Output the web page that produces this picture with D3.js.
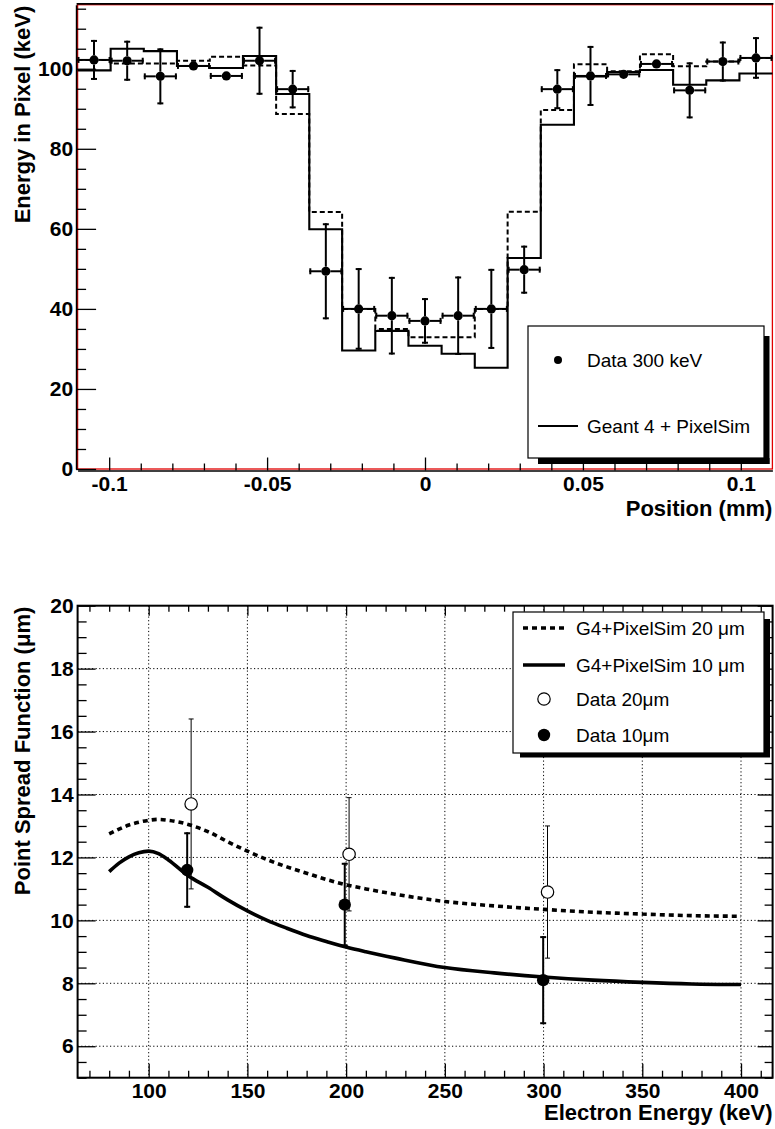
<!DOCTYPE html>
<html><head><meta charset="utf-8">
<script src="https://cdn.jsdelivr.net/npm/d3@7"></script>
<style>
body{margin:0;background:#fff}
svg{display:block}
</style>
</head><body>
<svg id="c" width="775" height="1129"></svg>
<script>
// ================= DATA =================
// Top panel: energy deposited in pixel vs position
const binCenters = [-0.1048,-0.0943,-0.0838,-0.0733,-0.0629,-0.0524,-0.0419,-0.0314,-0.0210,-0.0105,0,
                    0.0105,0.0210,0.0314,0.0419,0.0524,0.0629,0.0733,0.0838,0.0943,0.1048];
const binWidth = 0.010476;
const dataE   = [102.2,102.0,98.1,100.7,98.2,102.0,94.9,49.4,40.0,38.3,37.0,38.3,40.0,49.8,94.9,98.2,98.6,101.2,94.6,101.8,102.7];
const dataErr = [5.0,5.0,7.0,0.8,0.8,8.5,4.8,12.0,10.2,9.7,5.7,9.8,10.0,6.0,5.0,7.5,0.8,0.8,7.0,5.0,5.2];
const simSolid  = [99.6,105.0,104.4,100.7,100.2,103.2,93.7,59.9,29.6,34.5,30.8,28.8,25.3,52.7,86.0,98.1,99.2,99.7,96.0,97.1,98.8];
const simDashed = [102.2,101.3,101.3,102.0,103.0,100.8,88.7,64.2,40.0,35.0,32.9,32.9,40.0,64.3,89.7,101.1,99.4,103.6,100.6,101.8,102.7];
const xTicksTop = [-0.1,-0.05,0,0.05,0.1];
const xTickLabelsTop = ["-0.1","-0.05","0","0.05","0.1"];
const yTicksTop = [0,20,40,60,80,100];
const yTickLabelsTop = ["0","20","40","60","80","100"];

// Bottom panel: point spread function vs electron energy
const simEnergy = [80,85,90,95,100,105,110,120,130,140,150,160,170,180,190,200,210,225,250,275,300,325,350,375,400];
const psf10 = [11.55,11.82,12.02,12.15,12.2,12.12,11.92,11.42,11.05,10.65,10.3,10.0,9.75,9.52,9.33,9.15,9.0,8.8,8.5,8.33,8.2,8.1,8.03,7.98,7.96];
const psf20 = [12.75,12.9,13.03,13.12,13.18,13.21,13.18,13.05,12.82,12.5,12.2,11.93,11.7,11.5,11.3,11.13,11.0,10.83,10.6,10.46,10.35,10.26,10.2,10.15,10.13];
const data20E = [121.5,201.5,302];
const data20  = [13.7,12.1,10.9];
const data20Err = [2.7,1.8,2.1];
const data10E = [119.5,199.3,299.8];
const data10  = [11.6,10.5,8.1];
const data10Err = [1.2,1.33,1.4];
const xTicksBot = [100,150,200,250,300,350,400];
const xTickLabelsBot = ["100","150","200","250","300","350","400"];
const yTicksBot = [6,8,10,12,14,16,18,20];
const yTickLabelsBot = ["6","8","10","12","14","16","18","20"];

// ================= DRAW =================
const FONT = '"Liberation Sans", Arial, Helvetica, sans-serif';
const svg = d3.select("#c");

function styleAxis(g, size){
  g.attr("font-family", FONT).attr("font-size", size).attr("font-weight", "bold");
  g.selectAll("line").attr("stroke", "#000").attr("stroke-width", 1.3);
  g.selectAll("text").attr("fill", "#000");
}

// ---------- TOP PANEL ----------
const T = {l:77.6, r:772.4, t:4.7, b:469};
const xT = d3.scaleLinear().domain([-0.11,0.11]).range([T.l,T.r]);
const yT = d3.scaleLinear().domain([0,116]).range([T.b,T.t]);
const gT = svg.append("g");

gT.append("rect").attr("x",T.l).attr("y",T.t).attr("width",T.r-T.l).attr("height",T.b-T.t)
  .attr("fill","none").attr("stroke","#e00000").attr("stroke-width",1.3);
gT.append("line").attr("x1",T.l-1).attr("x2",T.r+1).attr("y1",T.t-0.8).attr("y2",T.t-0.8)
  .attr("stroke","#000").attr("stroke-width",1.6);

// minor ticks
const minorXT = d3.range(-10,11).map(k=>k/100).filter(v=>Math.abs(v*20-Math.round(v*20))>1e-6);
const minorYT = d3.range(5,116,5).filter(v=>v%20!==0);
gT.append("g").attr("transform",`translate(0,${T.b+1.5})`)
  .call(d3.axisBottom(xT).tickValues(minorXT).tickSize(-7).tickSizeOuter(0).tickFormat(""))
  .call(g=>{g.select(".domain").remove(); styleAxis(g,21);});
gT.append("g").attr("transform",`translate(${T.l-1.5},0)`)
  .call(d3.axisLeft(yT).tickValues(minorYT).tickSize(-10).tickSizeOuter(0).tickFormat(""))
  .call(g=>{g.select(".domain").remove(); styleAxis(g,21);});
// major axes
gT.append("g").attr("transform",`translate(0,${T.b+1.5})`)
  .call(d3.axisBottom(xT).tickValues(xTicksTop).tickSize(-13).tickSizeOuter(0).tickPadding(6)
        .tickFormat((d,i)=>xTickLabelsTop[i]))
  .call(g=>{styleAxis(g,21); g.select(".domain").attr("stroke","#000").attr("stroke-width",1.6);});
gT.append("g").attr("transform",`translate(${T.l-1.5},0)`)
  .call(d3.axisLeft(yT).tickValues(yTicksTop).tickSize(-20).tickSizeOuter(0).tickPadding(3)
        .tickFormat((d,i)=>yTickLabelsTop[i]))
  .call(g=>{styleAxis(g,21); g.select(".domain").attr("stroke","#000").attr("stroke-width",1.6);});

// axis titles
gT.append("text").attr("x",T.r).attr("y",516).attr("text-anchor","end")
  .attr("font-family",FONT).attr("font-weight","bold").attr("font-size",22).text("Position (mm)");
gT.append("text").attr("transform",`translate(30,${T.t+1}) rotate(-90)`).attr("text-anchor","end")
  .attr("font-family",FONT).attr("font-weight","bold").attr("font-size",22).text("Energy in Pixel (keV)");

// histograms
function histPts(vals){
  const pts = binCenters.map((c,i)=>[c-binWidth/2, vals[i]]);
  pts.push([binCenters[binCenters.length-1]+binWidth/2, vals[vals.length-1]]);
  return pts;
}
const stepLine = d3.line().x(d=>xT(d[0])).y(d=>yT(d[1])).curve(d3.curveStepAfter);
gT.append("path").attr("d",stepLine(histPts(simDashed))).attr("fill","none")
  .attr("stroke","#000").attr("stroke-width",2).attr("stroke-dasharray","5,3");
gT.append("path").attr("d",stepLine(histPts(simSolid))).attr("fill","none")
  .attr("stroke","#000").attr("stroke-width",2.1);

// data points with error bars
const R1 = 4.6;
const gD = gT.append("g").attr("stroke","#000").attr("stroke-width",2);
binCenters.forEach((c,i)=>{
  const cx = xT(c), cy = yT(dataE[i]);
  const xl = xT(c-binWidth/2), xr = xT(c+binWidth/2);
  // horizontal
  gD.append("line").attr("x1",xl).attr("x2",cx-R1).attr("y1",cy).attr("y2",cy);
  gD.append("line").attr("x1",cx+R1).attr("x2",xr).attr("y1",cy).attr("y2",cy);
  gD.append("line").attr("x1",xl+1).attr("x2",xl+1).attr("y1",cy-3).attr("y2",cy+3);
  gD.append("line").attr("x1",xr-1).attr("x2",xr-1).attr("y1",cy-3).attr("y2",cy+3);
  // vertical
  const yt = yT(dataE[i]+dataErr[i]), yb = yT(dataE[i]-dataErr[i]);
  if (cy-yt > R1+1){
    gD.append("line").attr("x1",cx).attr("x2",cx).attr("y1",yt).attr("y2",cy-R1);
    gD.append("line").attr("x1",cx).attr("x2",cx).attr("y1",cy+R1).attr("y2",yb);
    gD.append("line").attr("x1",cx-3).attr("x2",cx+3).attr("y1",yt+1).attr("y2",yt+1);
    gD.append("line").attr("x1",cx-3).attr("x2",cx+3).attr("y1",yb-1).attr("y2",yb-1);
  }
  gT.append("circle").attr("cx",cx).attr("cy",cy).attr("r",R1).attr("fill","#000");
});

// legend (top)
const LT = {x:528, y:326, w:236, h:132};
gT.append("rect").attr("x",LT.x+LT.w).attr("y",LT.y+10).attr("width",5.5).attr("height",LT.h-4).attr("fill","#000");
gT.append("rect").attr("x",LT.x+10).attr("y",LT.y+LT.h).attr("width",LT.w-4.5).attr("height",6).attr("fill","#000");
gT.append("rect").attr("x",LT.x).attr("y",LT.y).attr("width",LT.w).attr("height",LT.h)
  .attr("fill","#fff").attr("stroke","#000").attr("stroke-width",1.2);
gT.append("circle").attr("cx",558).attr("cy",360).attr("r",4).attr("fill","#000");
gT.append("text").attr("x",587).attr("y",367).attr("font-family",FONT).attr("font-size",19).text("Data 300 keV");
gT.append("line").attr("x1",538).attr("x2",578).attr("y1",426).attr("y2",426).attr("stroke","#000").attr("stroke-width",2);
gT.append("text").attr("x",587).attr("y",433).attr("font-family",FONT).attr("font-size",19).text("Geant 4 + PixelSim");

// ---------- BOTTOM PANEL ----------
const B = {l:77.6, r:772.6, t:605.7, b:1077.7};
const xB = d3.scaleLinear().domain([64,416]).range([B.l,B.r]);
const yB = d3.scaleLinear().domain([5,20]).range([B.b,B.t]);
const gB = svg.append("g");

// grid
gB.append("g").selectAll("line").data(xTicksBot).join("line")
  .attr("x1",d=>xB(d)).attr("x2",d=>xB(d)).attr("y1",B.t).attr("y2",B.b)
  .attr("stroke","#000").attr("stroke-width",1).attr("stroke-dasharray","1.2,2.4");
gB.append("g").selectAll("line").data(yTicksBot.filter(v=>v<20)).join("line")
  .attr("x1",B.l).attr("x2",B.r).attr("y1",d=>yB(d)).attr("y2",d=>yB(d))
  .attr("stroke","#000").attr("stroke-width",1).attr("stroke-dasharray","1.2,2.4");

// ticks
const minorXB = d3.range(70,416,10).filter(v=>v%50!==0);
const minorYB = d3.range(5,20.01,0.5).filter(v=>Math.abs(v%2)>1e-6);
function tickSet(axisFn, transform, vals, size, labels, pad){
  const a = axisFn.tickValues(vals).tickSize(size).tickSizeOuter(0).tickPadding(pad||0)
    .tickFormat(labels ? ((d,i)=>labels[i]) : "");
  gB.append("g").attr("transform",transform).call(a)
    .call(g=>{g.select(".domain").remove(); styleAxis(g,21);});
}
tickSet(d3.axisBottom(xB), `translate(0,${B.b})`, minorXB, -7);
tickSet(d3.axisBottom(xB), `translate(0,${B.b})`, xTicksBot, -14, xTickLabelsBot, 5);
tickSet(d3.axisTop(xB), `translate(0,${B.t})`, minorXB, -6);
tickSet(d3.axisTop(xB), `translate(0,${B.t})`, xTicksBot, -10);
tickSet(d3.axisLeft(yB), `translate(${B.l},0)`, minorYB, -9);
tickSet(d3.axisLeft(yB), `translate(${B.l},0)`, yTicksBot, -18, yTickLabelsBot, 4);
tickSet(d3.axisRight(yB), `translate(${B.r},0)`, minorYB, -8);
tickSet(d3.axisRight(yB), `translate(${B.r},0)`, yTicksBot, -15);

// frame
gB.append("rect").attr("x",B.l).attr("y",B.t).attr("width",B.r-B.l).attr("height",B.b-B.t)
  .attr("fill","none").attr("stroke","#000").attr("stroke-width",2);

// titles
gB.append("text").attr("x",B.r).attr("y",1120).attr("text-anchor","end")
  .attr("font-family",FONT).attr("font-weight","bold").attr("font-size",22).text("Electron Energy (keV)");
gB.append("text").attr("transform",`translate(30,${B.t+1}) rotate(-90)`).attr("text-anchor","end")
  .attr("font-family",FONT).attr("font-weight","bold").attr("font-size",22).text("Point Spread Function (\u03bcm)");

// curves
const curve = d3.line().x(d=>xB(d[0])).y(d=>yB(d[1])).curve(d3.curveMonotoneX);
gB.append("path").attr("d",curve(simEnergy.map((e,i)=>[e,psf20[i]]))).attr("fill","none")
  .attr("stroke","#000").attr("stroke-width",3.6).attr("stroke-dasharray","5,4");
gB.append("path").attr("d",curve(simEnergy.map((e,i)=>[e,psf10[i]]))).attr("fill","none")
  .attr("stroke","#000").attr("stroke-width",3.6);

// data 20um (open)
const R2 = 6.2;
data20E.forEach((e,i)=>{
  const cx = xB(e), cy = yB(data20[i]);
  const yt = yB(data20[i]+data20Err[i]), yb = yB(data20[i]-data20Err[i]);
  const g = gB.append("g").attr("stroke","#000").attr("stroke-width",1);
  g.append("line").attr("x1",cx).attr("x2",cx).attr("y1",yt).attr("y2",yb);
  g.append("line").attr("x1",cx-2.5).attr("x2",cx+2.5).attr("y1",yt).attr("y2",yt);
  g.append("line").attr("x1",cx-2.5).attr("x2",cx+2.5).attr("y1",yb).attr("y2",yb);
  g.append("circle").attr("cx",cx).attr("cy",cy).attr("r",R2).attr("fill","#fff").attr("stroke-width",1.2);
});
// data 10um (filled)
data10E.forEach((e,i)=>{
  const cx = xB(e), cy = yB(data10[i]);
  const yt = yB(data10[i]+data10Err[i]), yb = yB(data10[i]-data10Err[i]);
  const g = gB.append("g").attr("stroke","#000").attr("stroke-width",2);
  g.append("line").attr("x1",cx).attr("x2",cx).attr("y1",yt).attr("y2",yb);
  g.append("line").attr("x1",cx-3).attr("x2",cx+3).attr("y1",yt+1).attr("y2",yt+1);
  g.append("line").attr("x1",cx-3).attr("x2",cx+3).attr("y1",yb-1).attr("y2",yb-1);
  gB.append("circle").attr("cx",cx).attr("cy",cy).attr("r",R2).attr("fill","#000");
});

// legend (bottom)
const LB = {x:513, y:612, w:251, h:141};
gB.append("rect").attr("x",LB.x+LB.w).attr("y",LB.y+7).attr("width",6).attr("height",LB.h-3).attr("fill","#000");
gB.append("rect").attr("x",LB.x+7).attr("y",LB.y+LB.h).attr("width",LB.w-1).attr("height",4.5).attr("fill","#000");
gB.append("rect").attr("x",LB.x).attr("y",LB.y).attr("width",LB.w).attr("height",LB.h)
  .attr("fill","#fff").attr("stroke","#000").attr("stroke-width",1.2);
const legRows = [628,665,699,735];
const legText = ["G4+PixelSim 20 \u03bcm","G4+PixelSim 10 \u03bcm","Data 20\u03bcm","Data 10\u03bcm"];
gB.append("line").attr("x1",523).attr("x2",565).attr("y1",legRows[0]).attr("y2",legRows[0])
  .attr("stroke","#000").attr("stroke-width",3.6).attr("stroke-dasharray","5,4");
gB.append("line").attr("x1",523).attr("x2",565).attr("y1",legRows[1]).attr("y2",legRows[1])
  .attr("stroke","#000").attr("stroke-width",3.6);
gB.append("circle").attr("cx",544).attr("cy",legRows[2]).attr("r",R2).attr("fill","#fff").attr("stroke","#000").attr("stroke-width",1.2);
gB.append("circle").attr("cx",544).attr("cy",legRows[3]).attr("r",R2).attr("fill","#000");
legText.forEach((t,i)=>{
  gB.append("text").attr("x",576).attr("y",legRows[i]+7).attr("font-family",FONT).attr("font-size",19).text(t);
});
</script>
</body></html>
